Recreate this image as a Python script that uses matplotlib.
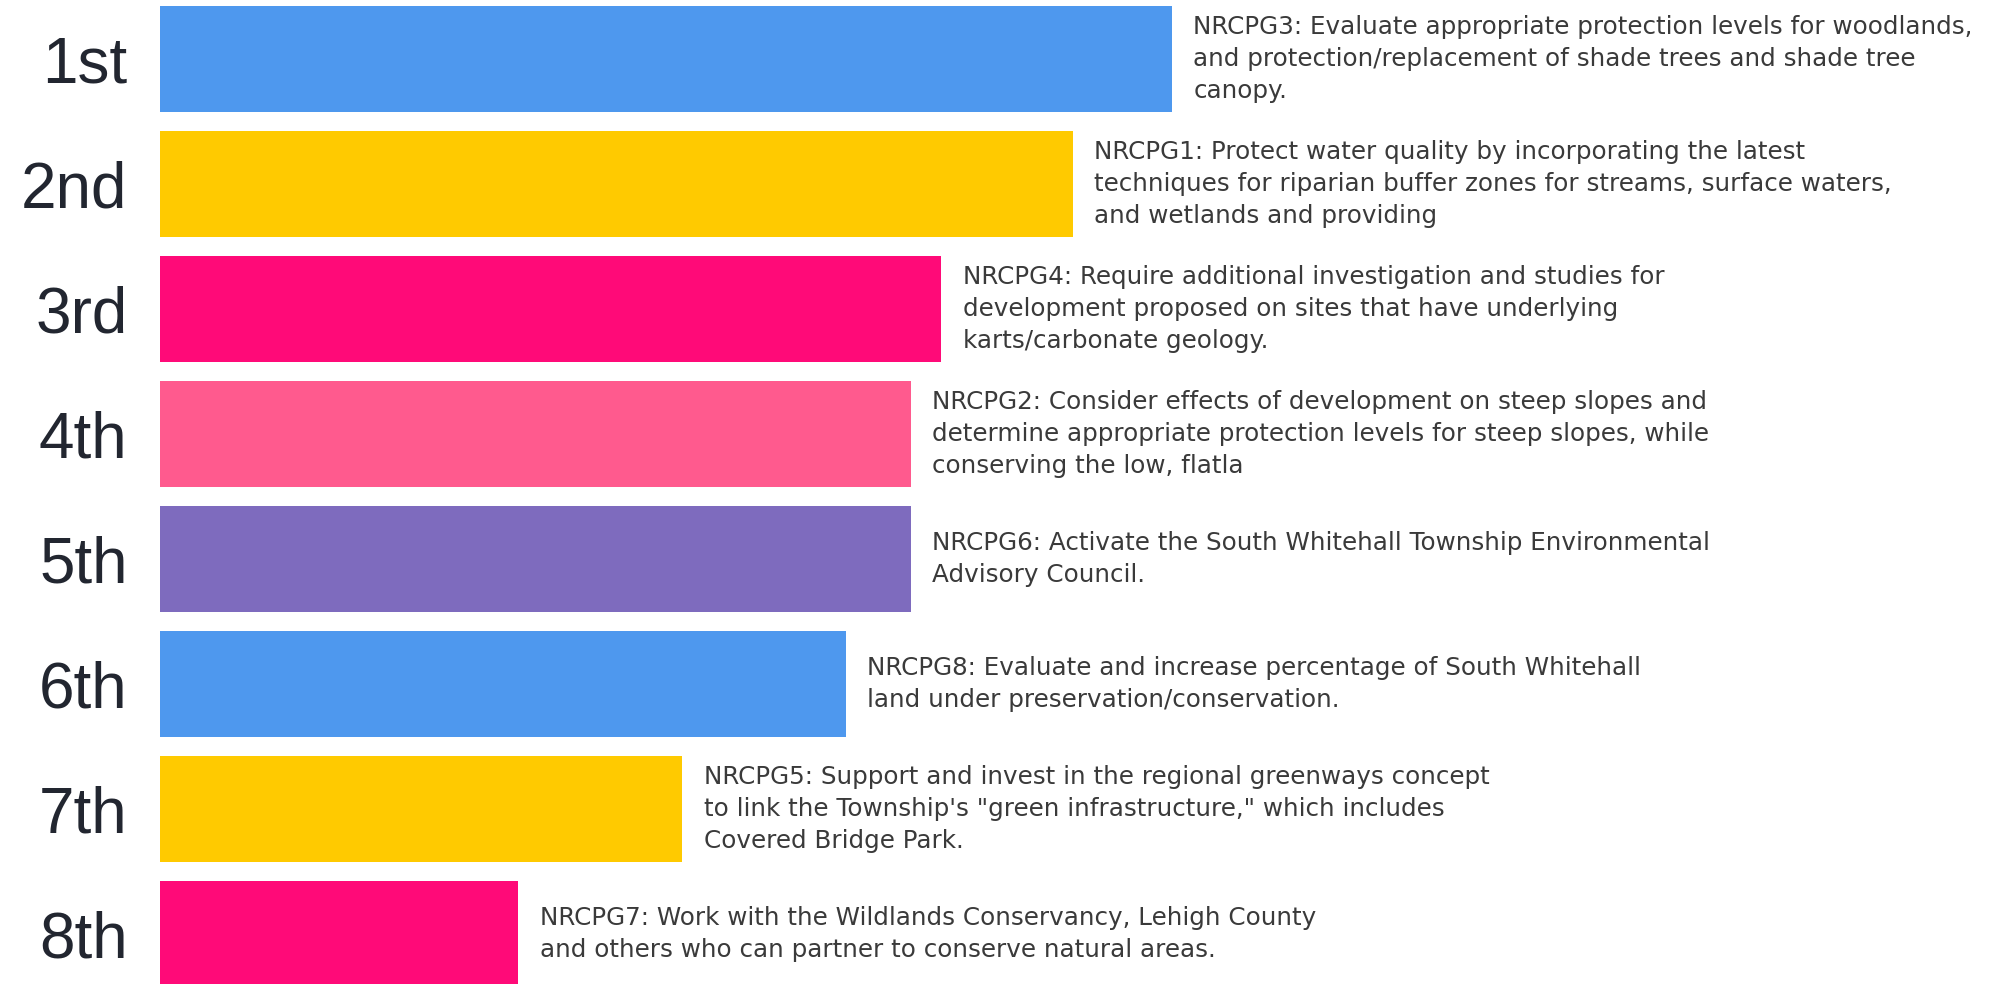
import matplotlib
matplotlib.use("Agg")
import matplotlib.pyplot as plt

# ranking of goals, top to bottom
ranks = ["1st", "2nd", "3rd", "4th", "5th", "6th", "7th", "8th"]
scores = [5.62, 5.07, 4.34, 4.17, 4.17, 3.81, 2.90, 1.99]
goals = [
    "NRCPG3: Evaluate appropriate protection levels for woodlands,\nand protection/replacement of shade trees and shade tree\ncanopy.",
    "NRCPG1: Protect water quality by incorporating the latest\ntechniques for riparian buffer zones for streams, surface waters,\nand wetlands and providing",
    "NRCPG4: Require additional investigation and studies for\ndevelopment proposed on sites that have underlying\nkarts/carbonate geology.",
    "NRCPG2: Consider effects of development on steep slopes and\ndetermine appropriate protection levels for steep slopes, while\nconserving the low, flatla",
    "NRCPG6: Activate the South Whitehall Township Environmental\nAdvisory Council.",
    "NRCPG8: Evaluate and increase percentage of South Whitehall\nland under preservation/conservation.",
    "NRCPG5: Support and invest in the regional greenways concept\nto link the Township's \"green infrastructure,\" which includes\nCovered Bridge Park.",
    "NRCPG7: Work with the Wildlands Conservancy, Lehigh County\nand others who can partner to conserve natural areas.",
]
colors = ["#4E98EE", "#FFCA00", "#FF0A78", "#FF5A8E", "#7E6BBE",
          "#4E98EE", "#FFCA00", "#FF0A78"]

fig = plt.figure(figsize=(20.04, 9.84), dpi=100)
ax = fig.add_axes([160 / 2004, 0, 1 - 160 / 2004, 1])

y = list(range(len(ranks)))
ax.barh(y, scores, height=0.85, color=colors)

for i, (s, txt) in enumerate(zip(scores, goals)):
    ax.text(s + 0.12, i, txt, va="center", ha="left", fontsize=17.7,
            family="DejaVu Sans", color="#3a3a3a", linespacing=1.42)
    ax.text(-0.18, i + 0.05, ranks[i], va="center", ha="right", fontsize=46,
            family="Liberation Sans", color="#222630")

ax.set_xlim(0, (2004 - 160) / 180)
ax.set_ylim(7.4, -0.472)
ax.axis("off")

fig.savefig("out.png", dpi=100)
